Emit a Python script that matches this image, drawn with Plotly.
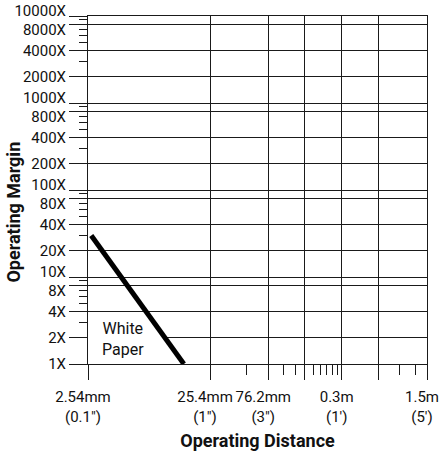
import numpy as np
import plotly.graph_objects as go

# ---- data -------------------------------------------------------------
# operating distance ticks (mm) and labels
x_tick_vals = [2.54, 25.4, 76.2, 152.4, 304.8, 609.6, 1524]
x_tick_text = ["2.54mm<br>(0.1″)", "25.4mm<br>(1″)", "76.2mm<br>(3″)", "",
               "0.3m<br>(1′)", "", "1.5m<br>(5′)"]
x_minor_vals = [50.8, 101.6, 127.0, 177.8, 203.2, 228.6, 254.0, 279.4, 914.4, 1219.2]

# operating margin ticks
y_tick_vals = [1, 2, 4, 8, 10, 20, 40, 80, 100, 200, 400, 800,
               1000, 2000, 4000, 8000, 10000]
y_minor_vals = [3, 5, 6, 7, 9, 30, 50, 60, 70, 90, 300, 500, 600, 700, 900,
                3000, 5000, 6000, 7000, 9000]
# label groups (the crowded 8·10^k / 10^(k+1) pairs are nudged apart)
y_labels_plain = [1, 2, 4, 20, 40, 200, 400, 2000, 4000]
y_labels_decade = [10, 100, 1000, 10000]
y_labels_eight = [8, 80, 800, 8000]

x_title = "Operating Distance"
y_title = "Operating Margin"

# White Paper curve (distance mm, margin X)
paper_dist = [2.7, 15.5]
paper_margin = [30, 1]
label_text = "White<br>Paper"
label_dist = 4.9
label_margin = 1.95
label_box_margin = [1.15, 3.6]   # vertical extent of the label's white backing

FONT = "Roboto, Liberation Sans, Arial, sans-serif"
INK = "#1a1a1a"
TICK_FONT = dict(family=FONT, size=15, color="#111")
TITLE_FONT = dict(family=FONT, size=18, color="#111")

# ---- white backing behind the label (bounded by the curve) -------------
lx = np.log10(paper_dist)
ly = np.log10(paper_margin)
def curve_x_at(m):
    return 10 ** (lx[0] + (np.log10(m) - ly[0]) * (lx[1] - lx[0]) / (ly[1] - ly[0]))

b0, b1 = label_box_margin
box_x = [x_tick_vals[0], curve_x_at(b1), curve_x_at(b0), x_tick_vals[0], x_tick_vals[0]]
box_y = [b1, b1, b0, b0, b1]

fig = go.Figure()
fig.add_trace(go.Scatter(x=box_x, y=box_y, mode="lines", fill="toself",
                         fillcolor="white", line=dict(width=0, color="white"),
                         hoverinfo="skip", showlegend=False))
fig.add_trace(go.Scatter(x=paper_dist, y=paper_margin, mode="lines",
                         line=dict(color="black", width=5), showlegend=False))
# invisible companions so the label-only overlay axes are drawn
for ax in ("y2", "y3"):
    fig.add_trace(go.Scatter(x=paper_dist, y=paper_margin, yaxis=ax, mode="lines",
                             line=dict(width=0), opacity=0, hoverinfo="skip",
                             showlegend=False))

fig.add_annotation(x=np.log10(label_dist), y=np.log10(label_margin), text=label_text,
                   showarrow=False, font=dict(family=FONT, size=16, color="#111"),
                   align="center")

# y-axis title, sitting a little below the plot's middle as in the original
fig.add_annotation(xref="paper", yref="paper", x=0, y=0.435, xshift=-74,
                   xanchor="center", yanchor="middle", textangle=-90,
                   text=f"<b>{y_title}</b>", showarrow=False, font=TITLE_FONT)

y_range = [np.log10(y_tick_vals[0]), np.log10(y_tick_vals[-1])]

fig.update_xaxes(
    type="log", automargin=False,
    range=[np.log10(x_tick_vals[0]), np.log10(x_tick_vals[-1])],
    showgrid=True, gridcolor=INK, gridwidth=1,
    showline=True, linecolor=INK, linewidth=1, mirror=True,
    ticks="outside", tickcolor=INK, tickwidth=1, ticklen=15,
    tickmode="array", tickvals=x_tick_vals, ticktext=x_tick_text,
    tickangle=0, tickfont=TICK_FONT, ticklabelshift=-5, ticklabelstandoff=4,
    minor=dict(tickmode="array", tickvals=x_minor_vals, ticks="outside",
               ticklen=10, tickcolor=INK, showgrid=False),
    title=dict(text=f"<b>{x_title}</b>", standoff=9, font=TITLE_FONT),
    zeroline=False,
)

fig.update_layout(
    yaxis=dict(
        type="log", automargin=False, range=y_range,
        showgrid=True, gridcolor=INK, gridwidth=1,
        showline=True, linecolor=INK, linewidth=1, mirror=True,
        ticks="outside", tickcolor=INK, tickwidth=1, ticklen=18,
        tickmode="array", tickvals=y_tick_vals,
        ticktext=[f"{v}X" if v in y_labels_plain else "" for v in y_tick_vals],
        tickfont=TICK_FONT,
        minor=dict(tickmode="array", tickvals=y_minor_vals, ticks="outside",
                   ticklen=8, tickcolor=INK, showgrid=False),
        zeroline=False,
    ),
    yaxis2=dict(
        type="log", automargin=False, range=y_range, overlaying="y", side="left",
        anchor="x", showgrid=False, showline=False, zeroline=False,
        ticks="outside", tickcolor=INK, ticklen=18,
        tickmode="array", tickvals=y_labels_decade,
        ticktext=[f"{v}X" for v in y_labels_decade],
        tickfont=TICK_FONT, ticklabelshift=-5,
    ),
    yaxis3=dict(
        type="log", automargin=False, range=y_range, overlaying="y", side="left",
        anchor="x", showgrid=False, showline=False, zeroline=False,
        ticks="outside", tickcolor=INK, ticklen=18,
        tickmode="array", tickvals=y_labels_eight,
        ticktext=[f"{v}X" for v in y_labels_eight],
        tickfont=TICK_FONT, ticklabelshift=5,
    ),
    width=441, height=452,
    margin=dict(l=88, r=14, t=16, b=88),
    paper_bgcolor="white", plot_bgcolor="white",
    showlegend=False,
)

fig.write_html("out.html")
